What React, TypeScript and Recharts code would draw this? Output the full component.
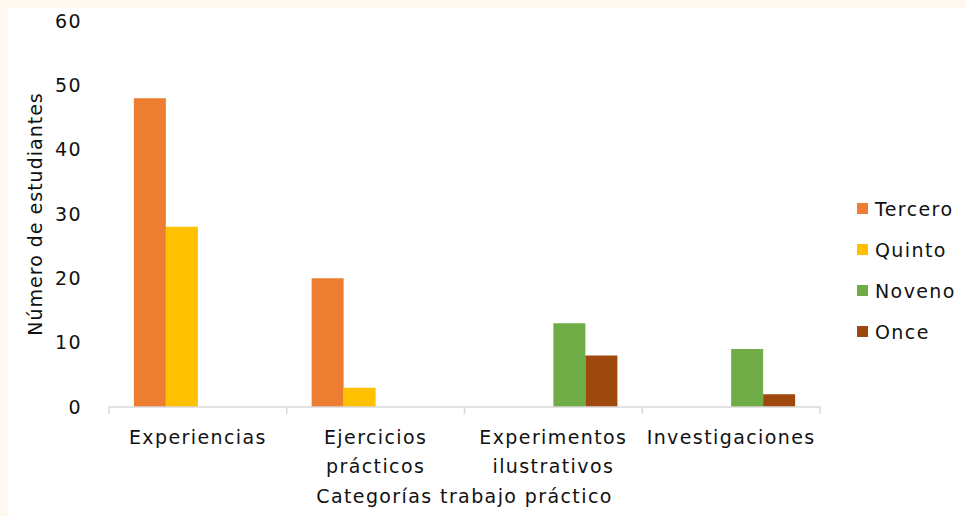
import { BarChart, Bar, XAxis, YAxis } from 'recharts';

const categories = ['Experiencias', 'Ejercicios prácticos', 'Experimentos ilustrativos', 'Investigaciones'];
const tickLines: string[][] = [
  ['Experiencias'],
  ['Ejercicios', 'prácticos'],
  ['Experimentos', 'ilustrativos'],
  ['Investigaciones'],
];
const seriesNames = ['Tercero', 'Quinto', 'Noveno', 'Once'];
const seriesColors = ['#ED7D31', '#FFC000', '#70AD47', '#9E480E'];
const tercero = [48, 20, 0, 0];
const quinto = [28, 3, 0, 0];
const noveno = [0, 0, 13, 9];
const once = [0, 0, 8, 2];
const yTicks = [0, 10, 20, 30, 40, 50, 60];

const data = categories.map((c, i) => ({
  cat: c,
  Tercero: tercero[i],
  Quinto: quinto[i],
  Noveno: noveno[i],
  Once: once[i],
}));

const FONT = '"DejaVu Sans", sans-serif';
const FS = 19;
const LS = 1.4;
const W = 958;
const H = 508;
const M = { top: 13, right: 146, left: 0, bottom: 0 };
const Y_W = 101;
const BAND = (W - M.left - M.right - Y_W) / categories.length;

function CatTick(props: any) {
  const { x, y, index } = props;
  const lines = tickLines[index] || [String(props.payload.value)];
  const half = BAND / 2;
  return (
    <g>
      <line x1={x - half} x2={x - half} y1={y} y2={y + 7} stroke="#D9D9D9" strokeWidth={1.5} />
      {index === categories.length - 1 && (
        <line x1={x + half} x2={x + half} y1={y} y2={y + 7} stroke="#D9D9D9" strokeWidth={1.5} />
      )}
      {lines.map((l, i) => (
        <text key={i} x={x} y={y + 37 + i * 29} textAnchor="middle" fill="#111" fontSize={FS} fontFamily={FONT} letterSpacing={LS}>
          {l}
        </text>
      ))}
    </g>
  );
}

export default function App() {
  return (
    <div style={{ position: 'fixed', left: 0, top: 0, width: 966, height: 516, background: '#FFF8F1' }}>
      <div style={{ position: 'absolute', left: 8, top: 8, width: W, height: H, background: '#fff' }}>
        <BarChart width={W} height={H} data={data} margin={M} barCategoryGap="14%" barGap={0}>
          <XAxis
            dataKey="cat"
            height={109}
            axisLine={{ stroke: '#D9D9D9', strokeWidth: 1.5 }}
            tickLine={false}
            tickSize={0}
            tickMargin={0}
            interval={0}
            tick={<CatTick />}
            label={({ viewBox }: any) => (
              <text x={viewBox.x + viewBox.width / 2} y={viewBox.y + 96} textAnchor="middle" fill="#111" fontSize={FS} fontFamily={FONT} letterSpacing={LS}>
                Categorías trabajo práctico
              </text>
            )}
          />
          <YAxis
            width={Y_W}
            domain={[0, 60]}
            ticks={yTicks}
            axisLine={false}
            tickLine={false}
            tickSize={0}
            tickMargin={27}
            tick={{ fill: '#111', fontSize: FS, fontFamily: FONT, letterSpacing: LS }}
            label={({ viewBox }: any) => (
              <text
                x={27}
                y={viewBox.y + viewBox.height / 2}
                transform={`rotate(-90, 27, ${viewBox.y + viewBox.height / 2})`}
                textAnchor="middle"
                dominantBaseline="central"
                fill="#111"
                fontSize={FS}
                fontFamily={FONT}
                letterSpacing={1}
              >
                Número de estudiantes
              </text>
            )}
          />
          {seriesNames.map((s, i) => (
            <Bar key={s} dataKey={s} fill={seriesColors[i]} isAnimationActive={false} />
          ))}
        </BarChart>
        <div style={{ position: 'absolute', left: 849, top: 180, fontFamily: FONT, fontSize: FS, letterSpacing: LS, color: '#111' }}>
          {seriesNames.map((s, i) => (
            <div key={s} style={{ display: 'flex', alignItems: 'center', height: 41 }}>
              <span style={{ width: 11, height: 11, background: seriesColors[i], marginRight: 7, display: 'inline-block' }} />
              <span>{s}</span>
            </div>
          ))}
        </div>
      </div>
    </div>
  );
}
